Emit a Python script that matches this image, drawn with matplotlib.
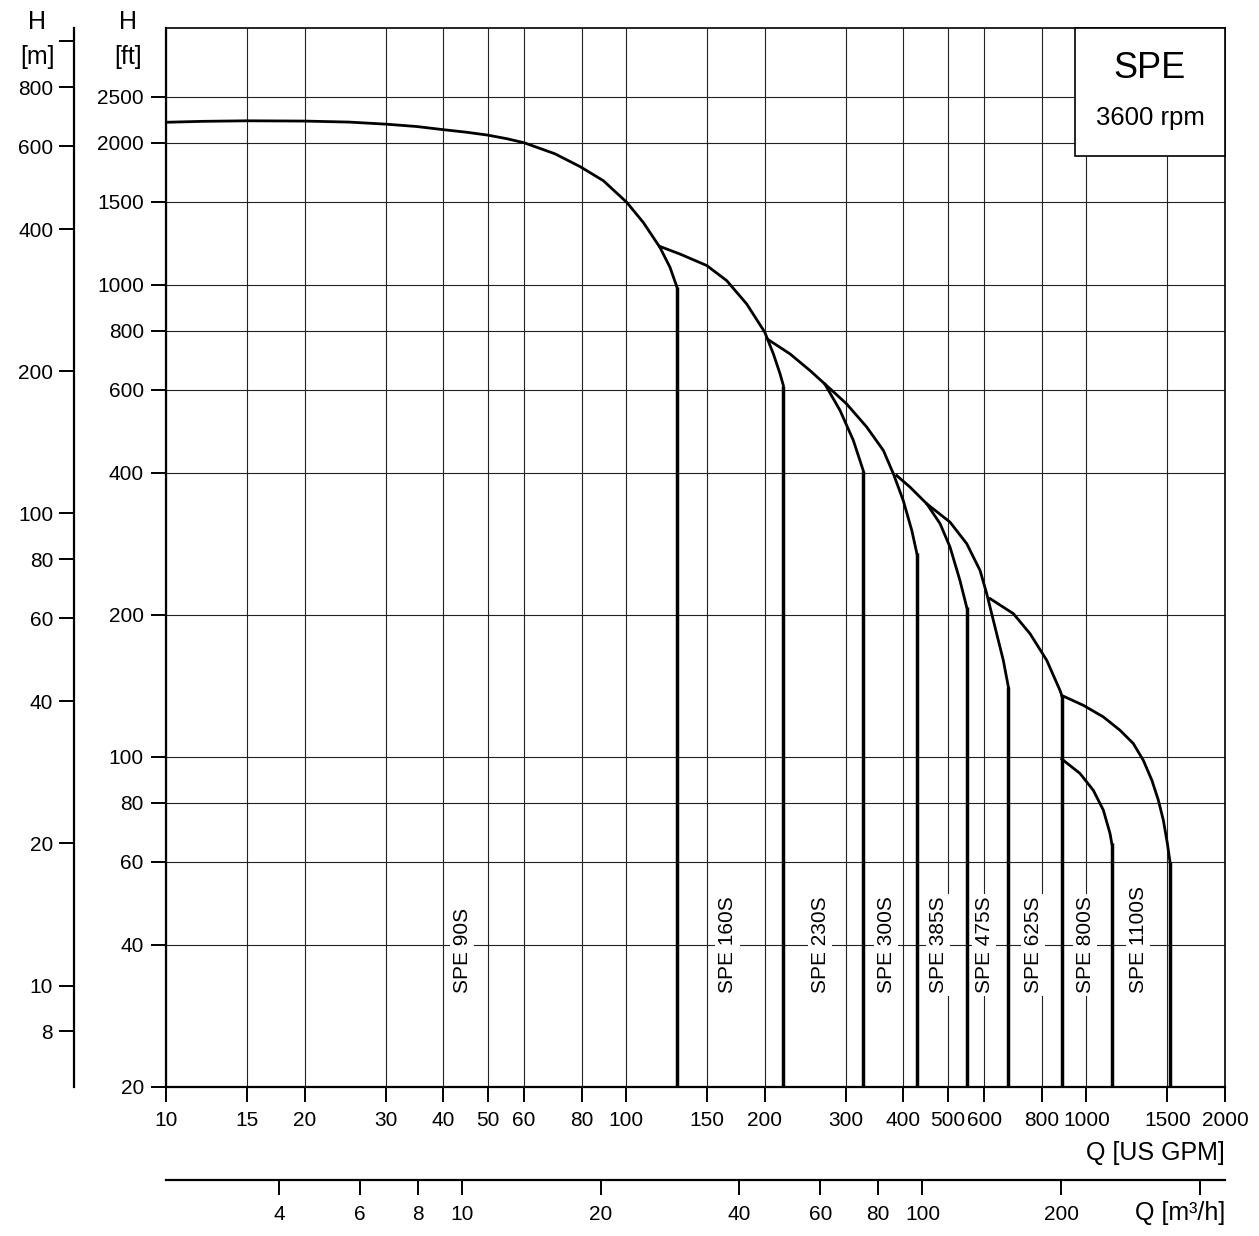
import matplotlib.pyplot as plt
from matplotlib.patches import Rectangle
from matplotlib.ticker import NullLocator

plt.rcParams["font.family"] = ["Liberation Sans", "DejaVu Sans"]

FT_PER_M = 3.2808
GPM_PER_M3H = 4.4029

# pump curves: flow [US GPM], head [ft]
q_90s = [10, 12, 15, 20, 25, 30, 35, 40, 45, 50, 55, 60, 70, 79.4, 89.2, 100.3, 108.9, 118.4,
         124.5, 128.8]
h_90s = [2210, 2220, 2226, 2223, 2212, 2190, 2165, 2132, 2105, 2076, 2040, 2000, 1895, 1780, 1662,
         1495, 1356, 1200, 1089, 991]
q_160s = [118.4, 130.9, 149.6, 165.3, 182.7, 200, 208.8, 215.9, 219.5]
h_160s = [1206, 1162, 1099, 1021, 911, 794, 714, 648, 612]
q_230s = [203.7, 227, 251, 270, 291.5, 311.6, 327.4]
h_230s = [765, 714, 658, 617, 542, 468, 404]
q_300s = [270, 301, 333, 362, 380.6, 400, 417.3, 428]
h_300s = [617, 560, 500, 446, 398, 349, 302, 270]
q_385s = [387, 413.7, 449.8, 480.8, 505.3, 531, 549]
h_385s = [394.5, 372.9, 343.8, 312, 278.4, 236.6, 208]
q_475s = [449.8, 505.3, 549.4, 587.2, 607.2, 632.9, 659.7, 676.6]
h_475s = [343.8, 314.4, 283, 248.4, 221.7, 188.4, 160.2, 140.7]
q_625s = [617.5, 693.7, 754, 819.9, 876, 884]
h_625s = [216.5, 201.2, 182.5, 160.2, 138.4, 135]
q_800s = [884, 968, 1035, 1088, 1125, 1135]
h_800s = [99, 92.3, 85, 77.2, 68.9, 65.6]
q_1100s = [884, 984, 1088, 1183, 1264, 1329, 1387, 1433, 1469, 1499, 1519]
h_1100s = [135, 128.7, 121.6, 113.9, 106.8, 98.4, 89.3, 81, 73.5, 65.6, 59.9]

pump_names = ["SPE 90S", "SPE 160S", "SPE 230S", "SPE 300S", "SPE 385S",
              "SPE 475S", "SPE 625S", "SPE 800S", "SPE 1100S"]
label_q = [44, 166, 264, 367, 476, 599, 766, 993, 1295]
label_h = 31.6

x_ticks = [10, 15, 20, 30, 40, 50, 60, 80, 100, 150, 200, 300, 400, 500, 600, 800, 1000, 1500, 2000]
y_ticks = [20, 40, 60, 80, 100, 200, 400, 600, 800, 1000, 1500, 2000, 2500]
m_ticks = [8, 10, 20, 40, 60, 80, 100, 200, 400, 600, 800, 1000]
m3h_ticks = [4, 6, 8, 10, 20, 40, 60, 80, 100, 200, 400]


def plot_spe_curves():
    fig = plt.figure(figsize=(12.59, 12.36), dpi=100)
    ax = fig.add_axes([166 / 1259, 149 / 1236, 1059 / 1259, 1059 / 1236])
    ax.set_xscale("log")
    ax.set_yscale("log")
    ax.set_xlim(10, 2000)
    ax.set_ylim(20, 3500)

    curves = [(q_90s, h_90s), (q_160s, h_160s), (q_230s, h_230s), (q_300s, h_300s),
              (q_385s, h_385s), (q_475s, h_475s), (q_625s, h_625s), (q_800s, h_800s),
              (q_1100s, h_1100s)]
    for q, h in curves:
        ax.plot(q, h, color="black", lw=2.0, solid_joinstyle="round", zorder=4)
        # drop line at the end of the curve
        ax.vlines(q[-1], 20, h[-1], color="black", lw=2.5, zorder=4)

    for name, q in zip(pump_names, label_q):
        ax.text(q, label_h, name, rotation=90, ha="center", va="bottom", fontsize=15, zorder=3,
                bbox=dict(facecolor="white", edgecolor="none", pad=2))

    ax.set_xticks(x_ticks, [str(t) for t in x_ticks])
    ax.set_yticks(y_ticks, [str(t) for t in y_ticks])
    ax.xaxis.set_minor_locator(NullLocator())
    ax.yaxis.set_minor_locator(NullLocator())
    ax.tick_params(axis="x", direction="out", length=11, width=1.4, pad=6, labelsize=15)
    ax.tick_params(axis="y", direction="out", length=11, width=1.4, pad=5, labelsize=15)
    ax.grid(True, which="major", color="#222222", lw=0.8)
    ax.set_axisbelow(True)
    for side in ["left", "bottom"]:
        ax.spines[side].set_linewidth(1.6)
    for side in ["top", "right"]:
        ax.spines[side].set_linewidth(1.2)

    # head in metres
    sec_m = ax.secondary_yaxis(-0.0869, functions=(lambda h: h / FT_PER_M, lambda m: m * FT_PER_M))
    sec_m.set_yticks(m_ticks, [str(t) for t in m_ticks[:-1]] + [""])
    sec_m.yaxis.set_minor_locator(NullLocator())
    sec_m.tick_params(axis="y", direction="out", length=11, width=1.4, pad=4, labelsize=15)
    sec_m.spines["left"].set_linewidth(1.6)

    # flow in m3/h
    sec_q = ax.secondary_xaxis(-0.0878, functions=(lambda q: q / GPM_PER_M3H, lambda v: v * GPM_PER_M3H))
    sec_q.set_xticks(m3h_ticks, [str(t) for t in m3h_ticks[:-1]] + [""])
    sec_q.xaxis.set_minor_locator(NullLocator())
    sec_q.tick_params(axis="x", direction="out", length=11, width=1.4, pad=7, labelsize=15)
    sec_q.spines["bottom"].set_linewidth(1.6)

    ax.text(1.0, -0.0623, "Q [US GPM]", transform=ax.transAxes, ha="right", va="center", fontsize=18)
    ax.text(1.0, -0.119, "Q [m³/h]", transform=ax.transAxes, ha="right", va="center", fontsize=18)

    fig.text(37 / 1259, 1 - 22 / 1236, "H", ha="center", va="center", fontsize=18)
    fig.text(37 / 1259, 1 - 57 / 1236, "[m]", ha="center", va="center", fontsize=18)
    fig.text(128 / 1259, 1 - 22 / 1236, "H", ha="center", va="center", fontsize=18)
    fig.text(128 / 1259, 1 - 57 / 1236, "[ft]", ha="center", va="center", fontsize=18)

    # SPE / rpm box
    ax.add_patch(Rectangle((0.8584, 0.8794), 0.1416, 0.1206, transform=ax.transAxes,
                           facecolor="white", edgecolor="black", lw=1.2, zorder=5, clip_on=False))
    ax.text(0.9292, 0.9622, "SPE", transform=ax.transAxes, ha="center", va="center", fontsize=26, zorder=6)
    ax.text(0.9292, 0.915, "3600 rpm", transform=ax.transAxes, ha="center", va="center", fontsize=18.5, zorder=6)

    fig.savefig("out.png", dpi=100)
    plt.close(fig)


if __name__ == "__main__":
    plot_spe_curves()
